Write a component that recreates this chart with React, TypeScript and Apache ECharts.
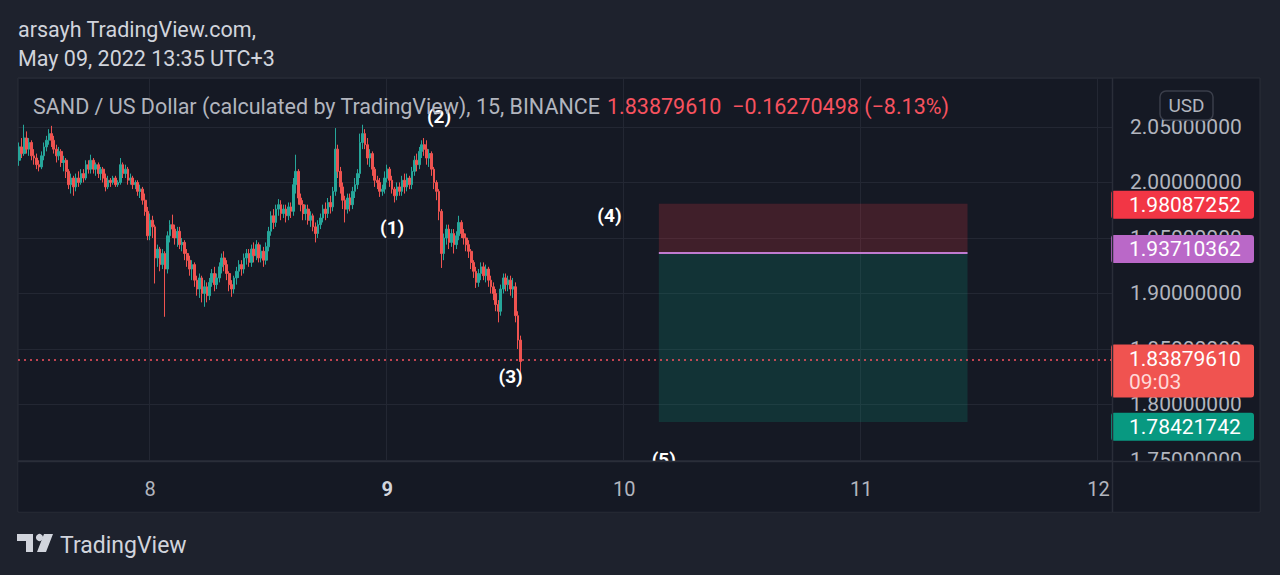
import React, { useEffect, useRef } from "react";
import * as echarts from "echarts";

// ---- time slots (15-minute bars, May 7 10:45 → May 12 01:30, UTC+3) ----
const START_MS = Date.UTC(2022, 4, 7, 10, 45);
const SLOT_COUNT = 443;
const pad = (n: number) => (n < 10 ? "0" + n : "" + n);
const categories: string[] = [];
for (let k = 0; k < SLOT_COUNT; k++) {
  const d = new Date(START_MS + k * 15 * 60000);
  categories.push(`${d.getUTCDate()} ${pad(d.getUTCHours())}:${pad(d.getUTCMinutes())}`);
}

// ---- candles: [open, close, low, high] ----
const candles: number[][] = [
  [2.020, 2.032, 2.015, 2.036], [2.032, 2.026, 2.022, 2.040], [2.026, 2.040, 2.024, 2.052], [2.040, 2.030, 2.026, 2.046],
  [2.030, 2.036, 2.024, 2.040], [2.036, 2.024, 2.020, 2.038], [2.024, 2.022, 2.016, 2.030], [2.022, 2.016, 2.012, 2.026],
  [2.016, 2.014, 2.010, 2.020], [2.014, 2.024, 2.012, 2.028], [2.024, 2.032, 2.020, 2.036], [2.032, 2.038, 2.028, 2.042],
  [2.038, 2.044, 2.034, 2.048], [2.044, 2.038, 2.032, 2.051], [2.038, 2.030, 2.026, 2.042], [2.030, 2.024, 2.018, 2.034],
  [2.024, 2.028, 2.020, 2.032], [2.028, 2.018, 2.014, 2.030], [2.018, 2.020, 2.010, 2.024], [2.020, 2.010, 2.004, 2.022],
  [2.010, 1.998, 1.994, 2.012], [1.998, 2.004, 1.990, 2.008], [2.004, 1.996, 1.988, 2.006], [1.996, 2.004, 1.992, 2.008],
  [2.004, 2.000, 1.996, 2.010], [2.000, 2.008, 1.998, 2.012], [2.008, 2.004, 2.000, 2.012], [2.004, 2.016, 2.002, 2.020],
  [2.016, 2.012, 2.008, 2.020], [2.012, 2.020, 2.008, 2.025], [2.020, 2.012, 2.008, 2.022], [2.012, 2.016, 2.006, 2.018],
  [2.016, 2.008, 2.004, 2.018], [2.008, 2.012, 2.002, 2.014], [2.012, 2.004, 2.000, 2.014], [2.004, 1.996, 1.992, 2.008],
  [1.996, 2.002, 1.994, 2.006], [2.002, 2.000, 1.996, 2.004], [2.000, 2.004, 1.998, 2.006], [2.004, 1.998, 1.996, 2.006],
  [1.998, 2.000, 1.996, 2.002], [2.000, 2.016, 1.998, 2.022], [2.016, 2.008, 2.004, 2.018], [2.008, 2.012, 2.004, 2.016],
  [2.012, 2.002, 1.998, 2.014], [2.002, 2.004, 1.998, 2.008], [2.004, 1.998, 1.994, 2.006], [1.998, 2.000, 1.994, 2.002],
  [2.000, 1.992, 1.988, 2.002], [1.992, 1.994, 1.986, 1.998], [1.994, 1.984, 1.980, 1.996], [1.984, 1.974, 1.970, 1.990],
  [1.974, 1.952, 1.948, 1.978], [1.952, 1.966, 1.948, 1.972], [1.966, 1.960, 1.950, 1.970], [1.960, 1.932, 1.909, 1.962],
  [1.932, 1.940, 1.924, 1.944], [1.940, 1.926, 1.920, 1.942], [1.926, 1.936, 1.922, 1.940], [1.936, 1.922, 1.879, 1.938],
  [1.922, 1.952, 1.918, 1.956], [1.952, 1.962, 1.946, 1.966], [1.962, 1.958, 1.950, 1.971], [1.958, 1.950, 1.944, 1.962],
  [1.950, 1.956, 1.942, 1.960], [1.956, 1.944, 1.940, 1.960], [1.944, 1.946, 1.938, 1.950], [1.946, 1.936, 1.930, 1.948],
  [1.936, 1.930, 1.924, 1.940], [1.930, 1.922, 1.916, 1.934], [1.922, 1.926, 1.912, 1.930], [1.926, 1.912, 1.906, 1.928],
  [1.912, 1.904, 1.898, 1.916], [1.904, 1.914, 1.896, 1.918], [1.914, 1.900, 1.892, 1.916], [1.900, 1.906, 1.888, 1.912],
  [1.906, 1.898, 1.892, 1.910], [1.898, 1.910, 1.894, 1.914], [1.910, 1.918, 1.906, 1.922], [1.918, 1.908, 1.902, 1.924],
  [1.908, 1.914, 1.904, 1.918], [1.914, 1.924, 1.910, 1.928], [1.924, 1.932, 1.918, 1.936], [1.932, 1.926, 1.920, 1.938],
  [1.926, 1.918, 1.912, 1.930], [1.918, 1.908, 1.902, 1.920], [1.908, 1.904, 1.897, 1.912], [1.904, 1.914, 1.900, 1.916],
  [1.914, 1.920, 1.908, 1.924], [1.920, 1.926, 1.914, 1.930], [1.926, 1.922, 1.916, 1.930], [1.922, 1.932, 1.918, 1.936],
  [1.932, 1.936, 1.926, 1.940], [1.936, 1.928, 1.924, 1.940], [1.928, 1.940, 1.924, 1.944], [1.940, 1.934, 1.928, 1.946],
  [1.934, 1.944, 1.930, 1.948], [1.944, 1.932, 1.928, 1.946], [1.932, 1.938, 1.928, 1.944], [1.938, 1.930, 1.924, 1.942],
  [1.930, 1.942, 1.926, 1.946], [1.942, 1.956, 1.938, 1.960], [1.956, 1.970, 1.952, 1.974], [1.970, 1.964, 1.958, 1.976],
  [1.964, 1.976, 1.960, 1.980], [1.976, 1.980, 1.970, 1.985], [1.980, 1.972, 1.966, 1.984], [1.972, 1.976, 1.968, 1.980],
  [1.976, 1.970, 1.964, 1.980], [1.970, 1.978, 1.966, 1.982], [1.978, 1.974, 1.968, 1.982], [1.974, 1.998, 1.970, 2.004],
  [1.998, 2.010, 1.990, 2.025], [2.010, 1.986, 1.980, 2.012], [1.986, 1.980, 1.974, 1.990], [1.980, 1.972, 1.966, 1.984],
  [1.972, 1.976, 1.966, 1.980], [1.976, 1.966, 1.962, 1.980], [1.966, 1.970, 1.960, 1.974], [1.970, 1.960, 1.956, 1.972],
  [1.960, 1.954, 1.946, 1.964], [1.954, 1.962, 1.950, 1.966], [1.962, 1.968, 1.958, 1.972], [1.968, 1.976, 1.964, 1.980],
  [1.976, 1.972, 1.966, 1.982], [1.972, 1.982, 1.968, 1.986], [1.982, 1.978, 1.972, 1.988], [1.978, 1.992, 1.974, 1.996],
  [1.992, 2.030, 1.988, 2.049], [2.030, 2.010, 2.004, 2.034], [2.010, 1.996, 1.990, 2.014], [1.996, 1.984, 1.976, 2.000],
  [1.984, 1.976, 1.964, 1.988], [1.976, 1.986, 1.972, 1.990], [1.986, 1.980, 1.974, 1.990], [1.980, 1.992, 1.976, 1.996],
  [1.992, 1.998, 1.986, 2.004], [1.998, 2.008, 1.994, 2.012], [2.008, 2.036, 2.004, 2.044], [2.036, 2.044, 2.030, 2.052],
  [2.044, 2.034, 2.030, 2.048], [2.034, 2.022, 2.016, 2.040], [2.022, 2.026, 2.014, 2.030], [2.026, 2.012, 2.006, 2.028],
  [2.012, 2.002, 1.996, 2.014], [2.002, 2.000, 1.994, 2.006], [2.000, 1.992, 1.987, 2.004], [1.992, 1.994, 1.988, 1.998],
  [1.994, 2.004, 1.990, 2.010], [2.004, 2.012, 2.000, 2.016], [2.012, 2.002, 1.996, 2.014], [2.002, 1.994, 1.990, 2.006],
  [1.994, 1.988, 1.982, 1.996], [1.988, 1.996, 1.984, 2.000], [1.996, 1.992, 1.988, 2.000], [1.992, 2.002, 1.988, 2.006],
  [2.002, 1.996, 1.990, 2.008], [1.996, 2.004, 1.992, 2.008], [2.004, 1.998, 1.994, 2.006], [1.998, 2.010, 1.994, 2.014],
  [2.010, 2.020, 2.006, 2.024], [2.020, 2.016, 2.010, 2.026], [2.016, 2.028, 2.012, 2.032], [2.028, 2.034, 2.022, 2.038],
  [2.034, 2.030, 2.024, 2.040], [2.030, 2.022, 2.016, 2.038], [2.022, 2.026, 2.014, 2.030], [2.026, 2.012, 2.006, 2.028],
  [2.012, 2.000, 1.994, 2.014], [2.000, 1.992, 1.984, 2.002], [1.992, 1.974, 1.966, 1.994], [1.974, 1.936, 1.923, 1.976],
  [1.936, 1.950, 1.930, 1.954], [1.950, 1.958, 1.944, 1.962], [1.958, 1.946, 1.940, 1.962], [1.946, 1.954, 1.942, 1.958],
  [1.954, 1.944, 1.936, 1.958], [1.944, 1.952, 1.940, 1.956], [1.952, 1.964, 1.948, 1.970], [1.964, 1.954, 1.950, 1.966],
  [1.954, 1.950, 1.944, 1.958], [1.950, 1.944, 1.938, 1.954], [1.944, 1.938, 1.932, 1.948], [1.938, 1.928, 1.922, 1.940],
  [1.928, 1.920, 1.914, 1.930], [1.920, 1.910, 1.905, 1.924], [1.910, 1.918, 1.906, 1.922], [1.918, 1.924, 1.912, 1.928],
  [1.924, 1.916, 1.912, 1.928], [1.916, 1.922, 1.910, 1.926], [1.922, 1.912, 1.906, 1.924], [1.912, 1.906, 1.900, 1.916],
  [1.906, 1.900, 1.894, 1.910], [1.900, 1.890, 1.884, 1.904], [1.890, 1.884, 1.874, 1.894], [1.884, 1.904, 1.880, 1.908],
  [1.904, 1.914, 1.900, 1.918], [1.914, 1.908, 1.902, 1.918], [1.908, 1.912, 1.902, 1.916], [1.912, 1.904, 1.898, 1.916],
  [1.904, 1.906, 1.896, 1.914], [1.906, 1.880, 1.874, 1.910], [1.880, 1.858, 1.850, 1.884], [1.858, 1.8387961, 1.818, 1.862],
];

// ---- price levels / position tool ----
const lastPrice = 1.8387961;
const stopPrice = 1.98087252;
const entryPrice = 1.93710362;
const targetPrice = 1.78421742;
const positionStartSlot = 259;
const positionEndSlot = 384;
const countdown = "09:03";

// ---- y ticks ----
const yMin = 1.75;
const yMax = 2.0941;
const yStep = 0.05;

// ---- wave labels ----
const waveLabels = [
  { name: "(1)", slot: 151, price: 1.959 },
  { name: "(2)", slot: 170, price: 2.059 },
  { name: "(3)", slot: 199, price: 1.8248 },
  { name: "(4)", slot: 239, price: 1.9698 },
  { name: "(5)", slot: 261, price: 1.7506 },
];

const titleText = "SAND / US Dollar (calculated by TradingView), 15, BINANCE";
const changeText = "1.83879610  \u22120.16270498 (\u22128.13%)";

const FONT = "Roboto, 'Noto Sans', sans-serif";
const UP = "#26a69a";
const DOWN = "#ef5350";
const PANEL = "#151924";
const GRIDC = "#232733";
const AXIS_TXT = "#b2b5be";

const isMidnight = (_i: number, v: string) => v.endsWith(" 00:00");

function badge(value: number, text: string, color: string) {
  return {
    yAxis: value,
    lineStyle: { color: "rgba(0,0,0,0)", width: 0, opacity: 1 },
    label: {
      show: true,
      position: "end",
      distance: -1,
      formatter: text,
      backgroundColor: color,
      color: "#ffffff",
      fontFamily: FONT,
      fontSize: 21,
      lineHeight: 22,
      width: 114,
      align: "left",
      padding: [3, 11, 3, 18],
      borderRadius: 3,
      opacity: 1,
    },
  };
}

export default function App() {
  const ref = useRef<HTMLDivElement>(null);
  useEffect(() => {
    document.body.style.margin = "0";
    document.body.style.background = "#1e222d";
    if (!ref.current) return;
    echarts.graphic.registerShape(
      "tvlogo",
      echarts.graphic.extendPath("M0 0 L16 0 L16 18 L9 18 L9 7 L0 7 Z M27 0 L36 0 L29 18 L20 18 Z", {})
    );
    const chart = echarts.init(ref.current, null, { renderer: "svg" });
    const option: any = {
      animation: false,
      backgroundColor: "#1e222d",
      grid: { left: 18, right: 168, top: 78, bottom: 115 },
      xAxis: [
        {
          type: "category",
          data: categories,
          boundaryGap: true,
          axisLine: { show: false },
          axisTick: { show: false },
          axisLabel: { show: false },
          splitLine: { show: true, interval: isMidnight, lineStyle: { color: GRIDC, width: 1 } },
        },
        {
          type: "category",
          data: categories,
          position: "bottom",
          boundaryGap: true,
          z: 10,
          axisLine: { show: false },
          axisTick: { show: false },
          splitLine: { show: false },
          axisLabel: {
            interval: isMidnight,
            margin: 19,
            color: AXIS_TXT,
            fontFamily: FONT,
            fontSize: 20,
            formatter: (v: string) => {
              const day = v.split(" ")[0];
              return day === "9" ? "{b|9}" : day;
            },
            rich: { b: { fontWeight: "bold", color: "#d1d4dc", fontFamily: FONT, fontSize: 20 } },
          },
        },
      ],
      yAxis: {
        type: "value",
        position: "right",
        min: yMin,
        max: yMax,
        interval: yStep,
        axisLine: { show: false },
        axisTick: { show: false },
        splitLine: { show: true, lineStyle: { color: GRIDC, width: 1 } },
        axisLabel: {
          showMaxLabel: false,
          margin: 18,
          color: AXIS_TXT,
          fontFamily: FONT,
          fontSize: 21,
          formatter: (v: number) => v.toFixed(8),
        },
      },
      series: [
        {
          type: "candlestick",
          data: candles,
          barWidth: "90%",
          itemStyle: { color: UP, color0: DOWN, borderColor: UP, borderColor0: DOWN, borderWidth: 1 },
          markArea: {
            silent: true,
            data: [
              [
                { coord: [positionStartSlot, stopPrice], itemStyle: { color: "rgba(242,54,69,0.2)" } },
                { coord: [positionEndSlot, entryPrice] },
              ],
              [
                { coord: [positionStartSlot, entryPrice], itemStyle: { color: "rgba(8,153,129,0.2)" } },
                { coord: [positionEndSlot, targetPrice] },
              ],
            ],
          },
          markLine: {
            silent: true,
            symbol: ["none", "none"],
            data: [
              [
                { coord: [positionStartSlot, entryPrice], lineStyle: { color: "#c07bd0", width: 2, type: "solid" }, label: { show: false } },
                { coord: [positionEndSlot, entryPrice] },
              ],
              {
                yAxis: lastPrice,
                lineStyle: { color: "#f7525f", width: 1.5, type: [2, 4] },
                label: {
                  show: true,
                  position: "end",
                  distance: -1,
                  formatter: "{a|1.83879610}\n{b|" + countdown + "}",
                  backgroundColor: "#f05350",
                  width: 114,
                  align: "left",
                  padding: [3, 11, 4, 18],
                  borderRadius: 3,
                  offset: [0, 11],
                  rich: {
                    a: { color: "#ffffff", fontFamily: FONT, fontSize: 21, lineHeight: 23 },
                    b: { color: "#ffd8d8", fontFamily: FONT, fontSize: 21, lineHeight: 23 },
                  },
                },
              },
              badge(stopPrice, "1.98087252", "#f23645"),
              badge(entryPrice, "1.93710362", "#ba68c8"),
              badge(targetPrice, "1.78421742", "#089981"),
            ],
          },
          markPoint: {
            silent: true,
            symbol: "circle",
            symbolSize: 1,
            itemStyle: { color: "rgba(0,0,0,0)" },
            label: {
              show: true,
              position: "inside",
              color: "#ffffff",
              fontFamily: FONT,
              fontWeight: "bold",
              fontSize: 19,
              formatter: (p: any) => p.name,
            },
            data: waveLabels.map((w) => ({ name: w.name, coord: [w.slot, w.price] })),
          },
        },
      ],
      graphic: [
        { type: "rect", z: -10, shape: { x: 18, y: 78, width: 1242, height: 434 }, style: { fill: PANEL, stroke: "#2a2e39", lineWidth: 1 } },
        { type: "rect", z: 6, shape: { x: 18.5, y: 462, width: 1241, height: 49.5 }, style: { fill: PANEL } },
        { type: "line", z: 7, shape: { x1: 18, y1: 461.5, x2: 1260, y2: 461.5 }, style: { stroke: "#2a2e39", lineWidth: 1.5 } },
        { type: "line", z: 7, shape: { x1: 1112.5, y1: 78, x2: 1112.5, y2: 512 }, style: { stroke: "#2a2e39", lineWidth: 1.5 } },
        {
          type: "text", z: 8, x: 18, y: 29,
          style: { text: "arsayh TradingView.com,", fill: "#d1d4dc", font: `21.5px ${FONT}`, textVerticalAlign: "middle" },
        },
        {
          type: "text", z: 8, x: 18, y: 58,
          style: { text: "May 09, 2022 13:35 UTC+3", fill: "#d1d4dc", font: `21.5px ${FONT}`, textVerticalAlign: "middle" },
        },
        {
          type: "text", z: 8, x: 33, y: 106,
          style: {
            text: `{a|${titleText}}  {b|${changeText}}`,
            textVerticalAlign: "middle",
            rich: {
              a: { fill: AXIS_TXT, fontFamily: FONT, fontSize: 21.5 },
              b: { fill: "#f7525f", fontFamily: FONT, fontSize: 21.5 },
            },
          },
        },
        {
          type: "rect", z: 8, shape: { x: 1160, y: 91, width: 53, height: 29, r: 6 },
          style: { fill: "#151924", stroke: "#3a3e4a", lineWidth: 1.5 },
        },
        {
          type: "text", z: 9, x: 1186.5, y: 105.5,
          style: { text: "USD", fill: AXIS_TXT, font: `19px ${FONT}`, textAlign: "center", textVerticalAlign: "middle" },
        },
        { type: "tvlogo", z: 8, x: 17, y: 534, style: { fill: "#d1d4dc" } },
        { type: "circle", z: 8, shape: { cx: 39.5, cy: 537.5, r: 3.6 }, style: { fill: "#d1d4dc" } },
        {
          type: "text", z: 8, x: 60, y: 545,
          style: { text: "TradingView", fill: "#d1d4dc", font: `23px ${FONT}`, textVerticalAlign: "middle" },
        },
      ],
    };
    chart.setOption(option);
    return () => chart.dispose();
  }, []);
  return <div ref={ref} style={{ width: 1280, height: 575 }} />;
}
